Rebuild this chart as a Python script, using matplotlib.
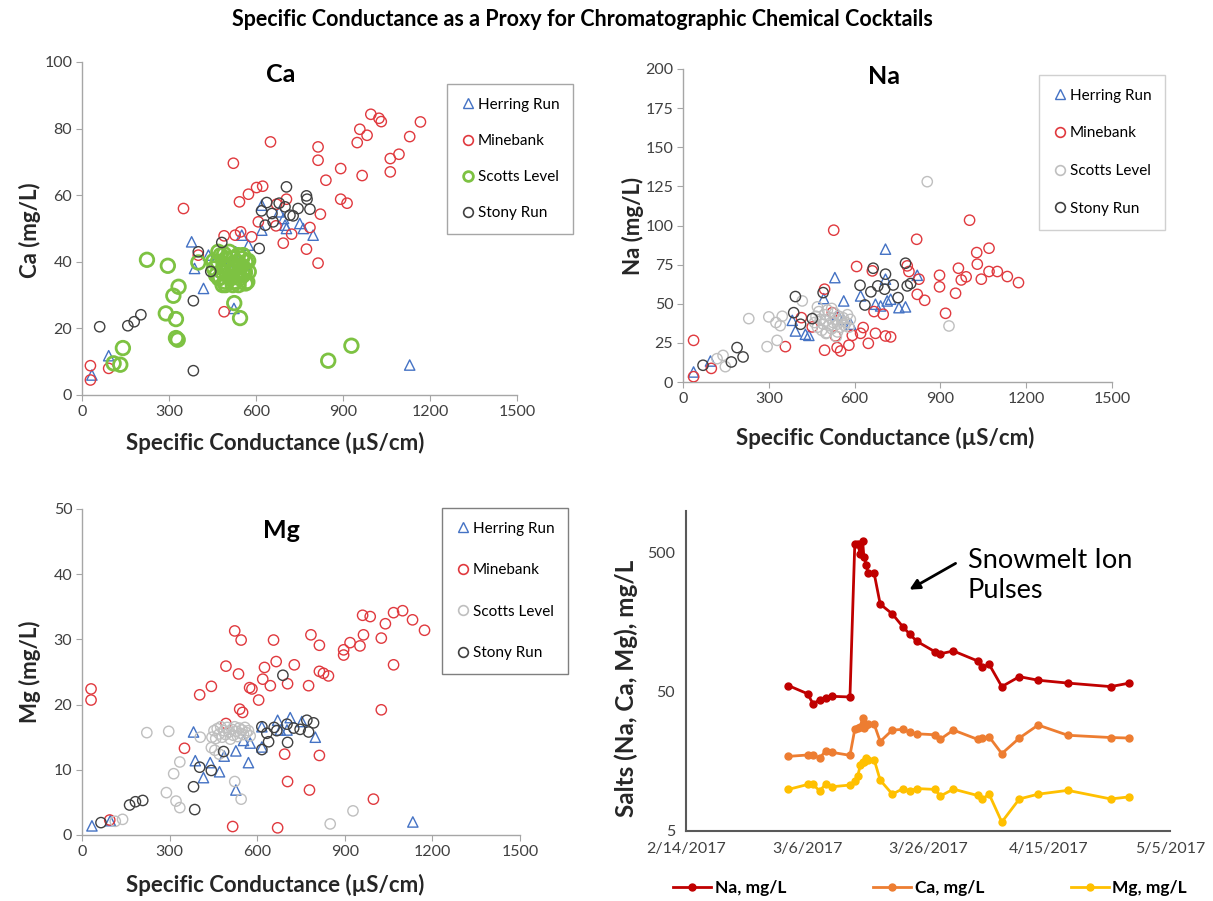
import pandas as pd
import matplotlib.pyplot as plt
from matplotlib.lines import Line2D

plt.rcParams['font.family'] = ['Lato', 'DejaVu Sans']

# ---- Ca panel (Specific conductance vs Ca) ----
ca_herring_x = [34, 92, 378, 388, 436, 419, 524, 551, 574, 620, 620, 680, 695, 700, 705, 751, 763, 797, 1130, 480, 510, 530, 560]
ca_herring_y = [6, 11.8, 46, 38, 42, 32, 26, 48, 45, 57, 49.5, 55, 53, 51, 50, 51.5, 50, 48, 9, 37, 40, 43, 39]
ca_mine_x = [29, 29, 92, 350, 401, 490, 490, 522, 528, 543, 547, 574, 585, 602, 623, 608, 650, 671, 705, 669,
             694, 723, 774, 786, 814, 814, 814, 822, 841, 892, 892, 914, 949, 958, 983, 966, 996, 1024, 1032,
             1063, 1063, 1093, 1130, 1167]
ca_mine_y = [8.8, 4.5, 8, 56, 42, 25, 47.8, 69.6, 48, 58, 49, 60.3, 47.5, 62.3, 62.7, 52, 76, 57.3, 58.8, 50.8,
             45.6, 48.3, 43.8, 50.3, 74.5, 70.5, 39.6, 54.3, 64.5, 68, 58.8, 57.6, 75.8, 79.8, 78, 65.9, 84.3, 83.1, 82.1,
             71, 67, 72.3, 77.6, 82]
ca_scotts_x = [109, 132, 141, 224, 296, 289, 324, 315, 333, 324, 330, 401, 525, 545, 849, 929,
               453, 490, 476, 495, 564, 573, 562,
               455, 462, 468, 472, 478, 483, 488, 492, 497, 500, 505, 508, 512, 515, 518, 522, 525, 528,
               532, 535, 538, 542, 545, 548, 552, 556, 560, 565, 570, 575, 485, 520, 540, 470, 555]
ca_scotts_y = [9.5, 9.1, 14.1, 40.6, 38.8, 24.5, 22.8, 29.8, 32.5, 17.1, 16.6, 39.8, 27.6, 23.1, 10.3, 14.8,
               40.2, 42.3, 35.3, 33, 33.5, 40.3, 36.8,
               38, 36, 40, 35, 42, 37, 39, 34, 41, 36, 38, 43, 35, 39, 37, 41, 34, 38,
               36, 40, 42, 37, 35, 39, 41, 36, 38, 40, 34, 37, 33, 33, 33, 43, 42]
ca_stony_x = [61, 158, 180, 203, 384, 384, 401, 444, 482, 611, 619, 637, 659, 680, 705, 728, 745, 774, 776, 786,
              700, 717, 655, 632]
ca_stony_y = [20.5, 20.8, 22, 24.1, 28.3, 7.3, 43, 37.1, 45.8, 44, 55.3, 57.8, 52, 57.6, 62.5, 53.8, 56, 59.8, 58.8, 55.8,
              56.5, 54, 54.5, 51]

# ---- Na panel ----
na_herring_x = [37, 96, 382, 393, 428, 440, 492, 531, 562, 586, 621, 673, 691, 708, 708, 714, 726, 755, 778, 819, 560, 540]
na_herring_y = [6.4, 13.4, 39.4, 32.6, 30.5, 29.8, 53.3, 66.7, 51.8, 36.9, 55, 49.7, 48.6, 84.9, 65.7, 51.8, 52.9, 47.5, 48, 68.2, 40, 43]
na_mine_x = [37, 37, 99, 358, 414, 452, 495, 495, 522, 527, 533, 539, 551, 580, 592, 607, 621, 630, 648, 662, 668,
             673, 700, 708, 726, 784, 790, 817, 825, 819, 845, 897, 897, 918, 953, 963, 973, 990, 1002, 1027, 1029,
             1043, 1070, 1070, 1099, 1134, 1173]
na_mine_y = [26.6, 3.4, 8.7, 22.6, 41.1, 35.2, 59.3, 20.3, 44.3, 97, 29.4, 22, 19.8, 23.5, 29.8, 73.8, 31.1, 34.8, 24.7, 71, 45,
             31.1, 43.3, 29.4, 28.8, 74.2, 70.6, 91.2, 65.7, 56, 52.2, 68.2, 60.8, 43.9, 56.7, 72.7, 65.2, 67.2, 103.4, 82.7, 75.3,
             65.7, 85.5, 70.6, 70.6, 67.4, 63.5]
na_scotts_x = [119, 140, 148, 230, 294, 300, 329, 325, 340, 347, 417, 502, 536, 854, 930,
               460, 465, 470, 475, 480, 485, 490, 495, 500, 505, 510, 515, 520, 525, 530, 535, 540, 545, 550,
               555, 560, 565, 570, 575, 580, 585, 540, 520, 500, 470]
na_scotts_y = [14.9, 17, 9.8, 40.5, 22.6, 41.6, 26.6, 38, 36, 42, 51.8, 31.5, 29, 128, 35.8,
               38, 42, 35, 45, 40, 33, 37, 43, 39, 46, 36, 41, 34, 38, 44, 40, 37, 42, 35,
               39, 41, 36, 38, 43, 35, 40, 32, 47, 31, 48]
na_stony_x = [70, 169, 189, 210, 387, 393, 411, 452, 490, 619, 636, 657, 665, 681, 705, 708, 735, 752, 778, 784, 796]
na_stony_y = [10.7, 12.8, 22, 16, 44.3, 54.6, 36.9, 40.5, 57.1, 61.8, 49.2, 57.6, 72.7, 61.4, 59.3, 68.9, 62, 53.9, 75.9, 61.4, 62.9]

# ---- Mg panel ----
mg_herring_x = [34, 97, 382, 388, 416, 439, 471, 487, 527, 527, 553, 570, 576, 616, 616, 670, 679, 702, 713, 753, 799, 1133]
mg_herring_y = [1.4, 2.2, 15.8, 11.4, 8.8, 11.1, 9.7, 12.1, 12.9, 6.9, 14.5, 11.1, 14.1, 16.6, 13.5, 17.6, 16.1, 16.1, 18, 17.4, 15, 2]
mg_mine_x = [31, 31, 95, 351, 403, 443, 493, 493, 516, 523, 536, 540, 550, 545, 574, 582, 605, 619, 625, 645, 656,
             665, 670, 694, 704, 704, 727, 776, 779, 784, 813, 813, 813, 827, 844, 896, 896, 918, 952, 961, 964,
             987, 998, 1025, 1025, 1039, 1067, 1067, 1098, 1132, 1173]
mg_mine_y = [22.4, 20.7, 2.3, 13.3, 21.5, 22.8, 25.9, 17.1, 1.3, 31.3, 24.7, 19.3, 18.8, 29.9, 22.6, 22.4, 20.7, 23.9, 25.7, 22.9, 29.9,
             26.6, 1.1, 12.4, 23.2, 8.2, 26.1, 22.9, 6.9, 30.7, 29.1, 12.2, 25.1, 24.8, 24.4, 27.6, 28.4, 29.5, 29, 33.7, 30.7,
             33.5, 5.5, 30.2, 19.2, 32.4, 34.1, 26.1, 34.4, 33, 31.4]
mg_scotts_x = [114, 139, 222, 297, 289, 314, 322, 335, 335, 405, 443, 523, 545, 850, 928,
               445, 452, 458, 463, 470, 475, 480, 486, 492, 497, 503, 508, 513, 518, 523, 528, 533, 538,
               543, 548, 553, 558, 563, 570, 576, 455, 470]
mg_scotts_y = [2.1, 2.4, 15.7, 15.9, 6.5, 9.4, 5.2, 11.2, 4.2, 15, 13.4, 8.2, 5.5, 1.7, 3.7,
               15, 16, 14.8, 16.3, 15.5, 16.6, 15, 16, 15.4, 16.5, 15.8, 14.7, 16.2, 15.3, 16.6, 15.9, 15.1, 16.4,
               15.6, 16.1, 15.4, 16.5, 15.7, 16, 15.2, 13, 12.4]
mg_stony_x = [65, 163, 183, 208, 382, 386, 403, 443, 485, 616, 616, 633, 639, 658, 667, 688, 704, 702, 725, 747, 770, 776, 793]
mg_stony_y = [1.9, 4.6, 5.1, 5.3, 7.4, 3.9, 10.4, 9.9, 12.8, 13.1, 16.6, 15.6, 14.3, 16.5, 16, 24.5, 14.2, 17, 16.4, 16.2, 17.6, 15.8, 17.2]

# ---- Time series (days after 2/14/2017) ----
ts_days = [16.9, 20.1, 21.0, 22.1, 23.1, 24.1, 27.1,
           27.9, 28.4, 28.8, 29.2, 29.4, 29.8, 30.1, 31.1,
           32.1, 34.1, 35.9, 37.0, 38.1, 41.2, 42.0, 44.2, 48.2, 49.0, 50.1,
           52.2, 55.1, 58.2, 63.1, 70.2, 73.3]
ts_na = [55.6, 48.5, 41, 44, 45.5, 46.5, 46,
         583, 575, 493, 605, 470, 409, 356, 356,
         214, 182, 146, 130, 116, 97, 94, 98.5, 83.5, 75, 79,
         54.6, 64.4, 60.7, 57.9, 54.6, 57.9]
ts_ca = [17.2, 17.6, 17.6, 16.7, 18.9, 18.4, 17.5,
         26.9, 27.5, 28, 32.7, 27.3, 29, 29.3, 29.3,
         22, 26.6, 26.9, 25.6, 25, 24.6, 22.8, 26.6, 22.8, 23.3, 23.8,
         18, 23.3, 28.9, 24.4, 23.5, 23.3]
ts_mg = [9.95, 10.8, 10.8, 9.7, 10.9, 10.4, 10.7,
         11.4, 12.5, 14.8, 15.8, 15.6, 16.7, 16.3, 16.3,
         11.6, 9.2, 10.1, 9.7, 10.1, 9.95, 8.9, 10, 9, 8.5, 9.2,
         5.8, 8.5, 9.2, 9.8, 8.5, 8.8]
date_ticks = ['2017-02-14', '2017-03-06', '2017-03-26', '2017-04-15', '2017-05-05']
date_labels = ['2/14/2017', '3/6/2017', '3/26/2017', '4/15/2017', '5/5/2017']

BLUE = '#4472C4'
RED = '#E0393E'
GREEN = '#7DC242'
LGRAY = '#BFBFBF'
DGRAY = '#404040'
AXC = '#A6A6A6'
TXT = '#404040'
LAB = '#262626'

W, H = 1213, 901
fig = plt.figure(figsize=(W / 100, H / 100), dpi=100)


def px_axes(l, t, r, b):
    return fig.add_axes([l / W, 1 - b / H, (r - l) / W, (b - t) / H])


def style_scatter(ax, ymax, ystep):
    ax.set_xlim(0, 1500)
    ax.set_ylim(0, ymax)
    ax.set_xticks(range(0, 1501, 300))
    ax.set_yticks([v for v in range(0, ymax + 1, ystep)])
    for s in ['top', 'right']:
        ax.spines[s].set_visible(False)
    for s in ['left', 'bottom']:
        ax.spines[s].set_color(AXC)
        ax.spines[s].set_linewidth(1)
    ax.tick_params(direction='out', length=4, color=AXC, labelcolor=TXT, labelsize=11.5, pad=3)


def scatter_panel(ax, data, green):
    (hx, hy), (mx, my), (sx, sy), (tx, ty) = data
    ax.scatter(hx, hy, marker='^', s=55, facecolors='none', edgecolors=BLUE, linewidths=1, label='Herring Run', zorder=3)
    ax.scatter(mx, my, marker='o', s=55, facecolors='none', edgecolors=RED, linewidths=1, label='Minebank', zorder=3)
    if green:
        ax.scatter(sx, sy, marker='o', s=95, facecolors='none', edgecolors=GREEN, linewidths=2, label='Scotts Level', zorder=3)
    else:
        ax.scatter(sx, sy, marker='o', s=55, facecolors='none', edgecolors=LGRAY, linewidths=1, label='Scotts Level', zorder=3)
    ax.scatter(tx, ty, marker='o', s=55, facecolors='none', edgecolors=DGRAY, linewidths=1, label='Stony Run', zorder=3)


def panel_legend(x, y, spacing, edge, green):
    hs = [
        Line2D([], [], ls='none', marker='^', ms=7, mfc='none', mec=BLUE, mew=1),
        Line2D([], [], ls='none', marker='o', ms=7, mfc='none', mec=RED, mew=1.2),
        Line2D([], [], ls='none', marker='o', ms=7, mfc='none',
               mec=GREEN if green else LGRAY, mew=2 if green else 1.2),
        Line2D([], [], ls='none', marker='o', ms=7, mfc='none', mec=DGRAY, mew=1.2),
    ]
    leg = fig.legend(hs, ['Herring Run', 'Minebank', 'Scotts Level', 'Stony Run'],
                     loc='upper left', bbox_to_anchor=(x / W, 1 - y / H),
                     fontsize=11, labelspacing=spacing, handletextpad=0.1, handlelength=1.0,
                     borderpad=0.9, borderaxespad=0, fancybox=False, framealpha=1)
    leg.get_frame().set_edgecolor(edge)
    leg.get_frame().set_linewidth(1)


# Ca
ax1 = px_axes(82, 62, 517, 395)
scatter_panel(ax1, [(ca_herring_x, ca_herring_y), (ca_mine_x, ca_mine_y),
                    (ca_scotts_x, ca_scotts_y), (ca_stony_x, ca_stony_y)], True)
style_scatter(ax1, 100, 20)
panel_legend(447, 84, 1.45, '#A6A6A6', True)

# Na
ax2 = px_axes(683, 69, 1112, 382)
scatter_panel(ax2, [(na_herring_x, na_herring_y), (na_mine_x, na_mine_y),
                    (na_scotts_x, na_scotts_y), (na_stony_x, na_stony_y)], False)
style_scatter(ax2, 200, 25)
panel_legend(1039, 75, 1.55, '#D0D0D0', False)

# Mg
ax3 = px_axes(82, 509, 520, 835)
scatter_panel(ax3, [(mg_herring_x, mg_herring_y), (mg_mine_x, mg_mine_y),
                    (mg_scotts_x, mg_scotts_y), (mg_stony_x, mg_stony_y)], False)
style_scatter(ax3, 50, 10)
panel_legend(442, 508, 1.8, '#7F7F7F', False)

# panel titles and labels
fig.text(281 / W, 1 - 75 / H, 'Ca', ha='center', va='center', fontsize=18, fontweight='bold')
fig.text(884 / W, 1 - 77 / H, 'Na', ha='center', va='center', fontsize=18, fontweight='bold')
fig.text(281 / W, 1 - 531 / H, 'Mg', ha='center', va='center', fontsize=18, fontweight='bold')
fig.text(582 / W, 1 - 20 / H, 'Specific Conductance as a Proxy for Chromatographic Chemical Cocktails',
         ha='center', va='center', fontsize=15.5, fontweight='bold')

xl = 'Specific Conductance (\u00b5S/cm)'
fig.text(275 / W, 1 - 443 / H, xl, ha='center', va='center', fontsize=16, fontweight='bold', color=LAB)
fig.text(885 / W, 1 - 438 / H, xl, ha='center', va='center', fontsize=16, fontweight='bold', color=LAB)
fig.text(275 / W, 1 - 885 / H, xl, ha='center', va='center', fontsize=16, fontweight='bold', color=LAB)
fig.text(30 / W, 1 - 230 / H, 'Ca (mg/L)', ha='center', va='center', rotation=90, fontsize=16, fontweight='bold', color=LAB)
fig.text(633 / W, 1 - 226 / H, 'Na (mg/L)', ha='center', va='center', rotation=90, fontsize=16, fontweight='bold', color=LAB)
fig.text(30 / W, 1 - 672 / H, 'Mg (mg/L)', ha='center', va='center', rotation=90, fontsize=16, fontweight='bold', color=LAB)
fig.text(626 / W, 1 - 688 / H, 'Salts (Na, Ca, Mg), mg/L', ha='center', va='center', rotation=90,
         fontsize=17.5, fontweight='bold', color=LAB)

# Time series
ax4 = px_axes(686, 511, 1170, 831)
t0 = pd.Timestamp('2017-02-14')
dates = [t0 + pd.Timedelta(days=d) for d in ts_days]
ax4.plot(dates, ts_na, color='#C00000', lw=2, marker='o', ms=5, label='Na, mg/L')
ax4.plot(dates, ts_ca, color='#ED7D31', lw=2, marker='o', ms=5, label='Ca, mg/L')
ax4.plot(dates, ts_mg, color='#FFC000', lw=2, marker='o', ms=5, label='Mg, mg/L')
ax4.set_yscale('log')
ax4.set_ylim(5, 1000)
ax4.set_yticks([5, 50, 500])
ax4.set_yticklabels(['5', '50', '500'])
ax4.minorticks_off()
ax4.set_xlim(pd.Timestamp(date_ticks[0]), pd.Timestamp(date_ticks[-1]))
ax4.set_xticks([pd.Timestamp(d) for d in date_ticks])
ax4.set_xticklabels(date_labels)
for s in ['top', 'right']:
    ax4.spines[s].set_visible(False)
for s in ['left', 'bottom']:
    ax4.spines[s].set_color('#595959')
    ax4.spines[s].set_linewidth(1.5)
ax4.tick_params(length=0, labelcolor=TXT, labelsize=11.5, pad=8)

ax4.annotate('', xy=(907 / W, 1 - 591 / H), xycoords='figure fraction',
             xytext=(958 / W, 1 - 562 / H), textcoords='figure fraction',
             arrowprops=dict(arrowstyle='-|>', color='black', lw=2, mutation_scale=15))
fig.text(968 / W, 1 - 575 / H, 'Snowmelt Ion\nPulses', ha='left', va='center', fontsize=19.5, linespacing=1.25)

fig.legend(handles=ax4.get_lines(), labels=['Na, mg/L', 'Ca, mg/L', 'Mg, mg/L'],
           loc='center', bbox_to_anchor=(930 / W, 1 - 888 / H), ncol=3, frameon=False,
           columnspacing=5.0, handlelength=2.2, handletextpad=0.2,
           prop={'size': 12.5, 'weight': 'bold'})

fig.savefig('out.png', dpi=100, facecolor='white')
